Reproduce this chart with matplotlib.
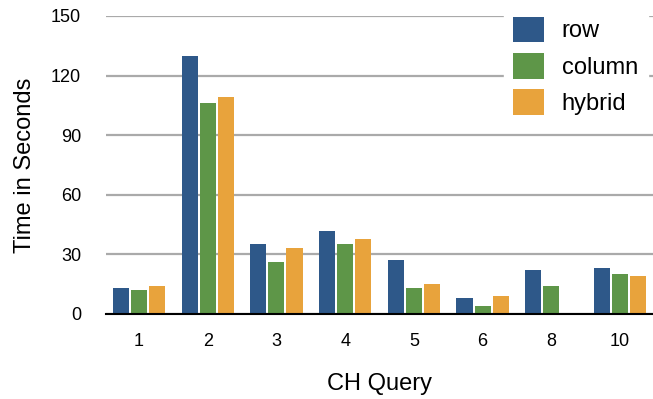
import numpy as np
import matplotlib.pyplot as plt

plt.rcParams['font.family'] = ['Liberation Sans', 'DejaVu Sans']

queries = ['1', '2', '3', '4', '5', '6', '8', '10']
row = [13, 130, 35, 42, 27, 8, 22, 23]
column = [12, 106, 26, 35, 13, 4, 14, 20]
hybrid = [14, 109, 33, 38, 15, 9, 0, 19]

colors = ['#2e5889', '#5e9648', '#e8a33c']

fig = plt.figure(figsize=(6.53, 3.99), dpi=100)
ax = fig.add_axes([106/653, 1 - 314/399, (653-106)/653, (314-16)/399])

x = np.arange(len(queries))
w = 0.235
off = 0.262
ax.bar(x - off, row, w, color=colors[0], label='row', zorder=3)
ax.bar(x, column, w, color=colors[1], label='column', zorder=3)
ax.bar(x + off, hybrid, w, color=colors[2], label='hybrid', zorder=3)

ax.set_ylim(0, 150)
ax.set_yticks([0, 30, 60, 90, 120, 150])
ax.set_xlim(-0.48, 7.48)
ax.set_xticks(x)
ax.set_xticklabels(queries)
ax.yaxis.grid(True, color='#aaaaaa', linewidth=1.6, zorder=0)
ax.set_axisbelow(True)
for s in ['top', 'right', 'left']:
    ax.spines[s].set_visible(False)
ax.spines['bottom'].set_linewidth(1.5)
ax.spines['bottom'].set_zorder(4)
ax.tick_params(axis='both', length=0, labelsize=13)
ax.tick_params(axis='x', pad=14)
ax.tick_params(axis='y', pad=18)

ax.set_xlabel('CH Query', fontsize=17, labelpad=16)
ax.set_ylabel('Time in Seconds', fontsize=17, labelpad=11)

leg = ax.legend(loc='upper right', bbox_to_anchor=(0.99, 1.03), fontsize=17,
                frameon=True, framealpha=1, edgecolor='white', fancybox=False,
                handlelength=1.3, handleheight=1.3, handletextpad=0.75,
                labelspacing=0.45, borderaxespad=0)

fig.savefig('out.png', dpi=100)
